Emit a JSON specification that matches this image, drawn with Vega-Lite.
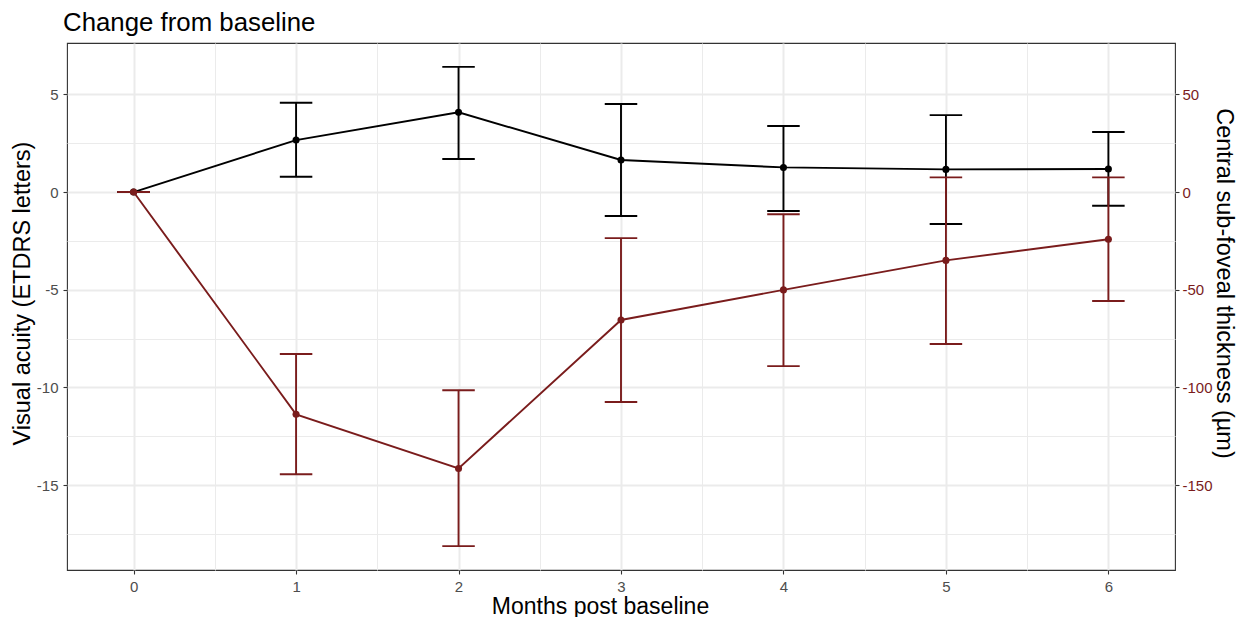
{
  "$schema": "https://vega.github.io/schema/vega-lite/v6.json",
  "width": 1108,
  "height": 527,
  "autosize": {"type": "none"},
  "padding": {"left": 67, "top": 43, "right": 67, "bottom": 47},
  "background": "white",
  "title": {
    "text": "Change from baseline",
    "anchor": "start",
    "frame": "group",
    "font": "Liberation Sans",
    "fontSize": 25.8,
    "fontWeight": "normal",
    "color": "#000000",
    "dx": -4,
    "offset": 6
  },
  "config": {
    "font": "Liberation Sans",
    "view": {"stroke": "#333333", "strokeWidth": 1.1}
  },
  "data": {
    "values": [
      {"month": 0, "va": 0, "va_lo": 0, "va_hi": 0, "cst": 0, "cst_lo": 0, "cst_hi": 0},
      {"month": 1, "va": 2.66, "va_lo": 0.78, "va_hi": 4.57, "cst": -113.8, "cst_lo": -144.5, "cst_hi": -82.9},
      {"month": 2, "va": 4.08, "va_lo": 1.69, "va_hi": 6.41, "cst": -141.5, "cst_lo": -181.3, "cst_hi": -101.5},
      {"month": 3, "va": 1.64, "va_lo": -1.23, "va_hi": 4.51, "cst": -65.5, "cst_lo": -107.5, "cst_hi": -23.6},
      {"month": 4, "va": 1.26, "va_lo": -0.97, "va_hi": 3.38, "cst": -50.1, "cst_lo": -89.1, "cst_hi": -11.4},
      {"month": 5, "va": 1.16, "va_lo": -1.64, "va_hi": 3.94, "cst": -35.0, "cst_lo": -77.8, "cst_hi": 7.5},
      {"month": 6, "va": 1.18, "va_lo": -0.70, "va_hi": 3.07, "cst": -24.2, "cst_lo": -55.8, "cst_hi": 7.5}
    ]
  },
  "encoding": {
    "x": {
      "field": "month",
      "type": "quantitative",
      "scale": {"domain": [-0.41, 6.41], "nice": false, "zero": false},
      "axis": {
        "title": "Months post baseline",
        "titleX": 533,
        "values": [0, 0.5, 1, 1.5, 2, 2.5, 3, 3.5, 4, 4.5, 5, 5.5, 6],
        "labelExpr": "datum.value % 1 === 0 ? '' + datum.value : ''",
        "domain": false,
        "grid": true,
        "gridColor": "#EBEBEB",
        "gridWidth": {"condition": {"test": "datum.value % 1 !== 0", "value": 1}, "value": 2},
        "tickOpacity": {"condition": {"test": "datum.value % 1 !== 0", "value": 0}, "value": 1},
        "tickColor": "#333333",
        "tickWidth": 1.1,
        "tickSize": 4,
        "labelPadding": 5,
        "labelFont": "Liberation Sans",
        "labelFontSize": 15,
        "labelColor": "#4D4D4D",
        "titleFont": "Liberation Sans",
        "titleFontSize": 23,
        "titleFontWeight": "normal",
        "titleColor": "#000000",
        "titlePadding": 1
      }
    }
  },
  "layer": [
    {
      "layer": [
        {
          "mark": {"type": "errorbar", "ticks": {"opacity": 1}, "rule": {"opacity": 1}, "size": 32.5, "thickness": 1.9, "color": "#000000"},
          "encoding": {
            "y": {
              "field": "va_lo",
              "type": "quantitative",
              "scale": {"domain": [-19.35, 7.63], "nice": false, "zero": false},
              "axis": {
                "orient": "left",
                "title": "Visual acuity (ETDRS letters)",
                "titleY": 250,
                "values": [-17.5, -15, -12.5, -10, -7.5, -5, -2.5, 0, 2.5, 5],
                "labelExpr": "datum.value % 5 === 0 ? '' + datum.value : ''",
                "domain": false,
                "grid": true,
                "gridColor": "#EBEBEB",
                "gridWidth": {"condition": {"test": "datum.value % 5 !== 0", "value": 1}, "value": 2},
                "tickOpacity": {"condition": {"test": "datum.value % 5 !== 0", "value": 0}, "value": 1},
                "tickColor": "#333333",
                "tickWidth": 1.1,
                "tickSize": 4,
                "labelPadding": 5,
                "labelFont": "Liberation Sans",
                "labelFontSize": 15,
                "labelColor": "#4D4D4D",
                "titleFont": "Liberation Sans",
                "titleFontSize": 23.5,
                "titleFontWeight": "normal",
                "titleColor": "#000000",
                "titlePadding": 2
              }
            },
            "y2": {"field": "va_hi"}
          }
        },
        {
          "mark": {"type": "line", "color": "#000000", "strokeWidth": 1.9},
          "encoding": {"y": {"field": "va", "type": "quantitative"}}
        },
        {
          "mark": {"type": "point", "filled": true, "color": "#000000", "size": 50, "opacity": 1},
          "encoding": {"y": {"field": "va", "type": "quantitative"}}
        }
      ]
    },
    {
      "layer": [
        {
          "mark": {"type": "errorbar", "ticks": {"opacity": 1}, "rule": {"opacity": 1}, "size": 32.5, "thickness": 1.9, "color": "#7A1C1C"},
          "encoding": {
            "y": {
              "field": "cst_lo",
              "type": "quantitative",
              "scale": {"domain": [-193.5, 76.3], "nice": false, "zero": false},
              "axis": {
                "orient": "right",
                "title": "Central sub-foveal thickness (µm)",
                "titleY": 240,
                "values": [-150, -100, -50, 0, 50],
                "labelExpr": "'' + datum.value",
                "domain": false,
                "grid": false,
                "tickColor": "#333333",
                "tickWidth": 1.1,
                "tickSize": 4,
                "labelPadding": 3,
                "labelFont": "Liberation Sans",
                "labelFontSize": 15,
                "labelColor": "#7A1C1C",
                "titleFont": "Liberation Sans",
                "titleFontSize": 23.5,
                "titleFontWeight": "normal",
                "titleColor": "#000000",
                "titlePadding": -1
              }
            },
            "y2": {"field": "cst_hi"}
          }
        },
        {
          "mark": {"type": "line", "color": "#7A1C1C", "strokeWidth": 1.9},
          "encoding": {"y": {"field": "cst", "type": "quantitative"}}
        },
        {
          "mark": {"type": "point", "filled": true, "color": "#7A1C1C", "size": 50, "opacity": 1},
          "encoding": {"y": {"field": "cst", "type": "quantitative"}}
        }
      ]
    }
  ],
  "resolve": {"scale": {"y": "independent"}}
}
